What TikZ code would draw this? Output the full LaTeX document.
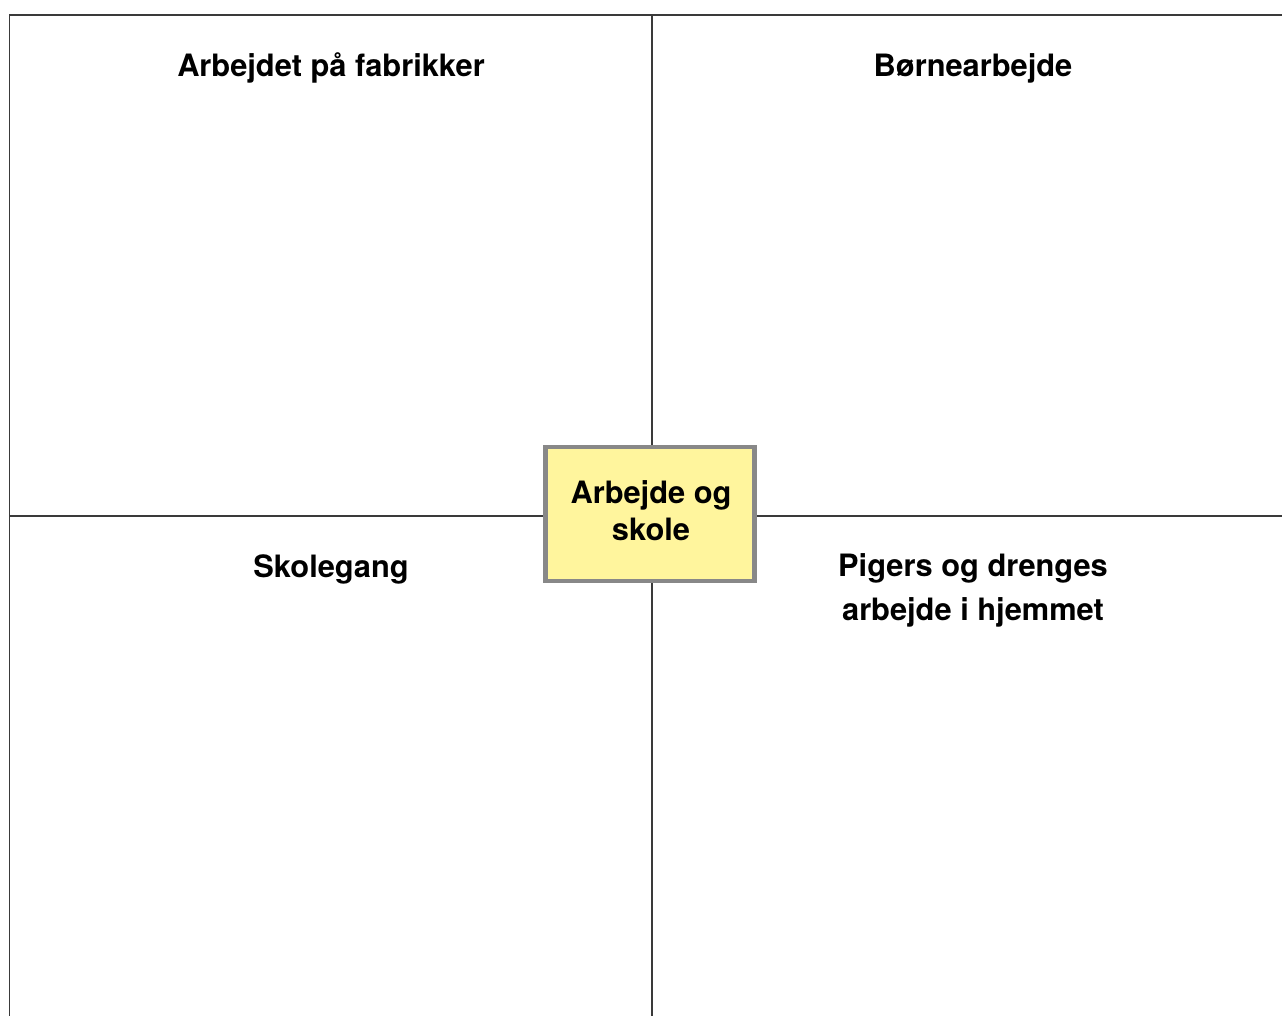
\documentclass[tikz,border=0pt]{standalone}
\usepackage{fontspec}
\setmainfont{TeX Gyre Heros}
\definecolor{gridline}{HTML}{3A3A3A}
\definecolor{boxfill}{HTML}{FFF59D}
\definecolor{boxedge}{HTML}{888888}
\tikzset{
  gridln/.style={draw=gridline, line width=1.5bp},
  title/.style={font=\bfseries\fontsize{30.8bp}{37bp}\selectfont, anchor=base, inner sep=0pt},
  centerbox/.style={draw=boxedge, fill=boxfill, line width=4.5bp, minimum width=209bp, minimum height=134bp, inner sep=0pt}
}
\begin{document}
\begin{tikzpicture}[x=1bp,y=-1bp]
\useasboundingbox (0,0) rectangle (1282,1016);
\fill[white] (0,0) rectangle (1282,1016);
% grid lines
\coordinate (tl) at (9.5,15);
\coordinate (tr) at (1282,15);
\coordinate (bl) at (9.5,1016);
\coordinate (mt) at (652,15);
\coordinate (mb) at (652,1016);
\coordinate (ml) at (9.5,516);
\coordinate (mr) at (1282,516);
\draw[gridln] (bl) -- (tl) -- (tr);
\draw[gridln] (mt) -- (mb);
\draw[gridln] (ml) -- (mr);
% center box
\node[centerbox] (center) at (650,514) {};
\node[title] (ctext1) at (651,503) {Arbejde og};
\node[title] (ctext2) at (651,540) {skole};
% titles
\node[title] (t1) at (331,76) {Arbejdet på fabrikker};
\node[title] (t2) at (973,76) {Børnearbejde};
\node[title] (t3) at (331,577) {Skolegang};
\node[title] (t4a) at (973,576) {Pigers og drenges};
\node[title] (t4b) at (973,620) {arbejde i hjemmet};
\end{tikzpicture}
\end{document}
